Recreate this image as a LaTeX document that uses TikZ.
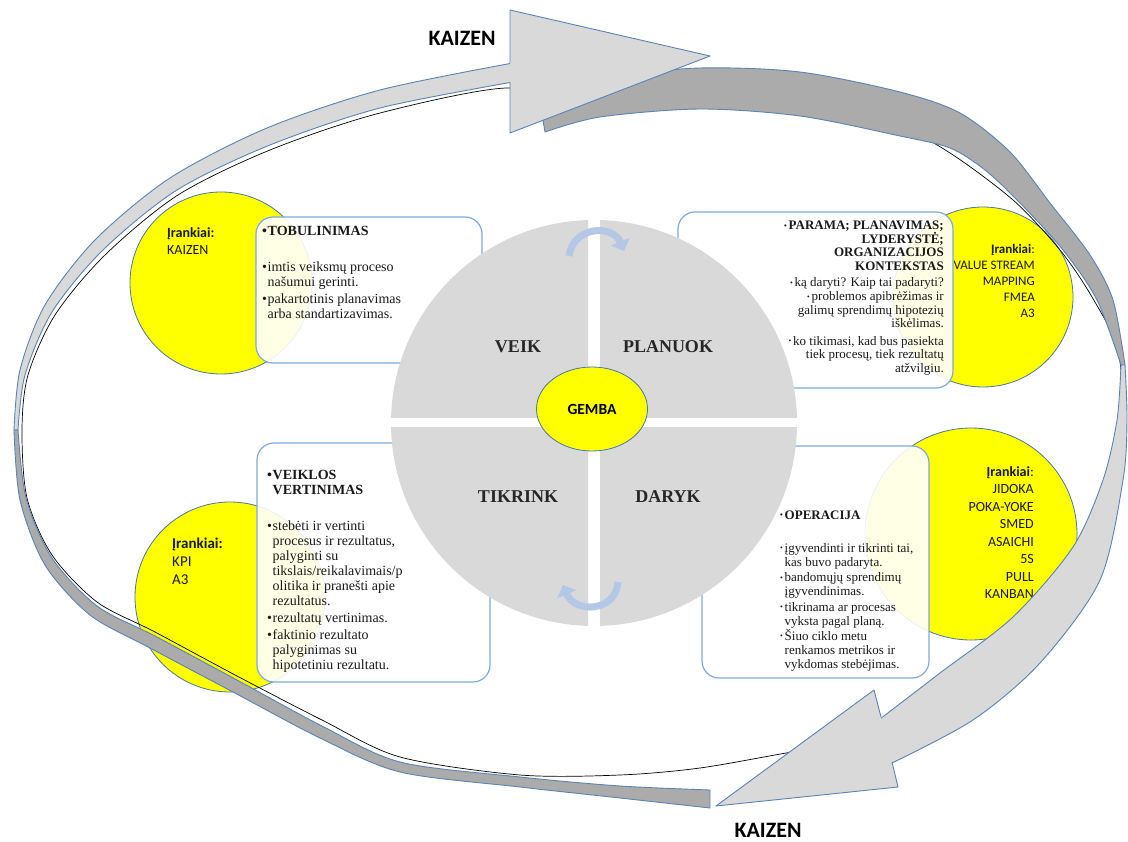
\documentclass[tikz,border=0pt]{standalone}
\usepackage{fontspec}
\usepackage{graphicx}
\setmainfont{Liberation Serif}
\newfontfamily\calibri{Carlito}
\usetikzlibrary{arrows.meta,shapes.geometric}

\definecolor{bandlight}{HTML}{D9D9D9}
\definecolor{banddark}{HTML}{ABABAB}
\definecolor{bandedge}{HTML}{5B83B5}
\definecolor{tool}{HTML}{FFFF00}
\definecolor{tooledge}{HTML}{4A76A8}
\definecolor{boxedge}{HTML}{7FA9DC}
\definecolor{pdca}{HTML}{D9D9D9}
\definecolor{turn}{HTML}{B4C7E7}

% bullets: full size for the left boxes, small raised for the right boxes
\newcommand{\bul}{\makebox[5.5pt][l]{•}}
\newcommand{\sbul}{\makebox[4.5pt][l]{\raisebox{1.5pt}{\scalebox{0.6}{•}}}}

\begin{document}
\begin{tikzpicture}[x=1pt,y=-1pt,
  bandface/.style={fill=#1, draw=bandedge, line width=0.9pt, line join=round},
  toolcircle/.style={fill=tool, draw=tooledge, line width=0.8pt},
  infobox/.style={draw=boxedge, line width=1.2pt, fill=white, fill opacity=0.9, rounded corners=17pt},
  tooltext/.style={inner sep=0pt, text=black!90},
  boxtext/.style={inner sep=0pt, text=black!90},
  quadlabel/.style={inner sep=0pt, font=\bfseries\fontsize{18}{18}\selectfont, text=black!85},
  kaizen/.style={inner sep=0pt, font=\calibri\bfseries\fontsize{22}{22}\selectfont},
  turnarrow/.style={draw=turn, line width=7pt, -{Triangle[length=10pt,width=20pt]}}
]
\useasboundingbox (0,0) rectangle (1128,842);
\fill[white] (0,0) rectangle (1128,842);

% ---------- tool circles ----------
\draw[toolcircle] (221,283) circle[radius=91pt];
\draw[toolcircle] (983,297) circle[radius=90pt];
\draw[toolcircle] (230,597) circle[radius=95pt];
\draw[toolcircle] (971,534) circle[radius=106pt];

\node[tooltext, anchor=north west, align=left, font=\calibri\fontsize{14}{16.5}\selectfont]
  (tools1) at (167,227.5) {\textbf{Įrankiai:}\\KAIZEN};
\node[tooltext, anchor=north east, align=right, font=\calibri\fontsize{13}{16}\selectfont]
  (tools2) at (1035,243.8) {\textbf{Įrankiai}:\\VALUE STREAM\\MAPPING\\FMEA\\A3};
\node[tooltext, anchor=north west, align=left, font=\calibri\fontsize{15}{18.3}\selectfont]
  (tools3) at (172,537.6) {\textbf{Įrankiai:}\\KPI\\A3};
\node[tooltext, anchor=north east, align=right, font=\calibri\fontsize{14}{17.5}\selectfont]
  (tools4) at (1034,466.3) {\textbf{Įrankiai}:\\JIDOKA\\POKA-YOKE\\SMED\\ASAICHI\\5S\\PULL\\KANBAN};

% ---------- text boxes ----------
\draw[infobox] (256,217) rectangle (482,363);
\draw[infobox] (678,212) rectangle (953,388);
\draw[infobox] (257,443) rectangle (490,682);
\draw[infobox] (702,446) rectangle (929,678);

\node[boxtext, anchor=north west, align=left, font=\fontsize{14}{15}\selectfont]
  (act) at (262,225.7) {\textbf{\bul TOBULINIMAS}\\[21pt]
  \bul imtis veiksmų proceso\\
  \hspace*{5.5pt}našumui gerinti.\\[2pt]
  \bul pakartotinis planavimas\\
  \hspace*{5.5pt}arba standartizavimas.};

\node[boxtext, anchor=north east, align=right, font=\fontsize{13}{13.6}\selectfont]
  (plan) at (944,220.9) {\textbf{\sbul PARAMA; PLANAVIMAS;}\\
  \textbf{LYDERYSTĖ;}\\
  \textbf{ORGANIZACIJOS}\\
  \textbf{KONTEKSTAS}\\[2.5pt]
  \sbul ką daryti? Kaip tai padaryti?\\[0.5pt]
  \sbul problemos apibrėžimas ir\\
  galimų sprendimų hipotezių\\
  iškėlimas.\\[3.5pt]
  \sbul ko tikimasi, kad bus pasiekta\\
  tiek procesų, tiek rezultatų\\
  atžvilgiu.};

\node[boxtext, anchor=north west, align=left, font=\fontsize{14}{15}\selectfont]
  (check) at (267,470.2) {\textbf{\bul VEIKLOS}\\
  \hspace*{5.5pt}\textbf{VERTINIMAS}\\[21pt]
  \bul stebėti ir vertinti\\
  \hspace*{5.5pt}procesus ir rezultatus,\\
  \hspace*{5.5pt}palyginti su\\
  \hspace*{5.5pt}tikslais/reikalavimais/p\\
  \hspace*{5.5pt}olitika ir pranešti apie\\
  \hspace*{5.5pt}rezultatus.\\[2pt]
  \bul rezultatų vertinimas.\\[2pt]
  \bul faktinio rezultato\\
  \hspace*{5.5pt}palyginimas su\\
  \hspace*{5.5pt}hipotetiniu rezultatu.};

\node[boxtext, anchor=north west, align=left, font=\fontsize{13}{14.2}\selectfont]
  (do) at (780,510.4) {\textbf{\sbul OPERACIJA}\\[18.8pt]
  \sbul įgyvendinti ir tikrinti tai,\\
  \hspace*{4.5pt}kas buvo padaryta.\\[1pt]
  \sbul bandomųjų sprendimų\\
  \hspace*{4.5pt}įgyvendinimas.\\[1pt]
  \sbul tikrinama ar procesas\\
  \hspace*{4.5pt}vyksta pagal planą.\\[1pt]
  \sbul Šiuo ciklo metu\\
  \hspace*{4.5pt}renkamos metrikos ir\\
  \hspace*{4.5pt}vykdomas stebėjimas.};

% ---------- PDCA wheel: four quadrants separated by a white cross ----------
\foreach \xa/\ya/\xb/\yb in {380/210/588/418, 600/210/810/418, 380/428/588/636, 600/428/810/636} {
  \begin{scope}
    \clip (\xa,\ya) rectangle (\xb,\yb);
    \fill[pdca] (594,423) circle[radius=203pt];
  \end{scope}
}
\node[quadlabel] (veik) at (518,347) {VEIK};
\node[quadlabel] (planuok) at (668,347) {PLANUOK};
\node[quadlabel] (tikrink) at (518,497) {TIKRINK};
\node[quadlabel] (daryk) at (668,497) {DARYK};

\node[ellipse, draw=tooledge, line width=0.8pt, fill=tool, minimum width=111pt, minimum height=84pt,
  inner sep=0pt, font=\calibri\bfseries\fontsize{15.5}{15.5}\selectfont] (gemba) at (592,409) {GEMBA};

% small turning arrows on the wheel
\draw[turnarrow] (569,256) .. controls (573,226) and (613,224) .. (624,251);
\draw[turnarrow] (618,582) .. controls (616,612) and (575,614) .. (563,585);

% ---------- KAIZEN loop ----------
% thin outline of the loop, mostly hidden under the bands
\draw[black, line width=0.7pt] plot[smooth cycle] coordinates {
  (560,118) (700,100) (800,105) (900,128) (950,153) (1013,200) (1060,250) (1092,297)
  (1118,350) (1122,420) (1112,480) (1087,547) (1027,640) (960,695) (880,738) (792,752)
  (700,768) (620,775) (520,775) (400,757) (322,720) (237,676) (155,632) (97,602)
  (52,555) (27,498) (22,430) (28,375) (55,315) (105,255) (178,195) (270,150) (380,113) (510,88)};

% first arrow: light upper face, dark lower face
\path[bandface=bandlight] plot[smooth] coordinates {(513,63) (380,90) (267,128) (170,178) (95,240) (45,305) (20,370) (14,430)}
  -- plot[smooth] coordinates {(18,430) (25,375) (52,312) (103,250) (177,190) (270,145) (380,108) (513,82)} -- cycle;
\path[bandface=banddark] plot[smooth] coordinates {(14,430) (20,500) (45,565) (90,615) (150,648) (233,692) (320,738) (400,772) (520,787) (620,798) (710,808)}
  -- plot[smooth] coordinates {(710,790) (620,786) (520,777) (400,762) (322,726) (237,680) (155,636) (97,606) (52,558) (26,498) (18,430)} -- cycle;

% second arrow: dark upper face, light right face
\path[bandface=banddark] plot[smooth] coordinates {(537,86) (600,77) (700,68) (800,72) (900,92) (960,113) (1010,152) (1050,203) (1090,255) (1113,300) (1125,365)}
  -- plot[smooth] coordinates {(1121,365) (1097,300) (1063,250) (1020,203) (985,170) (950,148) (900,136) (800,116) (700,109) (600,117) (545,132)} -- cycle;
\path[bandface=bandlight] plot[smooth] coordinates {(1125,365) (1127,420) (1123,480) (1100,580) (1040,663) (973,720) (890,764)}
  -- plot[smooth] coordinates {(880,719) (940,673) (1013,617) (1073,547) (1103,480) (1117,420) (1121,365)} -- cycle;

% arrow heads
\fill[bandlight] (510,10) -- (710,56) -- (510,133) -- cycle;
\draw[bandedge, line width=0.9pt, line join=round] (510,63) -- (510,10) -- (710,56) -- (510,133) -- (510,82);
\fill[bandlight] (874,690) -- (716,806) -- (898,787) -- cycle;
\draw[bandedge, line width=0.9pt, line join=round] (881,717) -- (874,690) -- (716,806) -- (898,787) -- (892,762);

\node[kaizen] (kaizentop) at (462,38) {KAIZEN};
\node[kaizen] (kaizenbottom) at (768,830) {KAIZEN};
\end{tikzpicture}
\end{document}
